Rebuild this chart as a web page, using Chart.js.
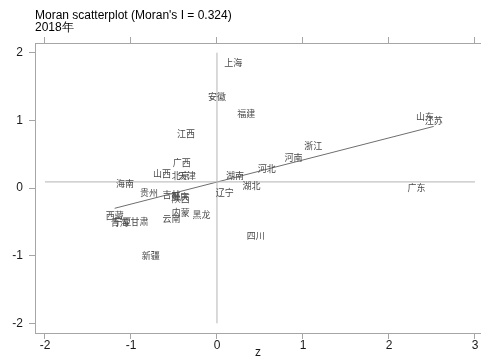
<!DOCTYPE html>
<html>
<head>
<meta charset="utf-8">
<script src="https://cdn.jsdelivr.net/npm/chart.js@4"></script>
<style>
html,body{margin:0;padding:0;background:#fff;}
canvas{display:block;}
</style>
</head>
<body>
<canvas id="c" width="481" height="361"></canvas>
<script>
// Province labels (as displayed) and Moran scatter values
const provinces = ['上海','安徽','福建','江西','山东','江苏','浙江','河南','河北','湖南','湖北','辽宁','广东','广西','山西','北京','天津','海南','贵州','吉林','陕西','重庆','内蒙','云南','黑龙','西藏','青海','宁夏','甘肃','新疆','四川'];
const zValues  = [0.19, 0.00, 0.34, -0.36, 2.42, 2.52, 1.12, 0.89, 0.58, 0.21, 0.40, 0.09, 2.32, -0.41, -0.64, -0.42, -0.35, -1.07, -0.79, -0.53, -0.42, -0.43, -0.42, -0.53, -0.18, -1.19, -1.13, -1.10, -0.90, -0.77, 0.45];
const wzValues = [1.86, 1.35, 1.10, 0.80, 1.06, 0.99, 0.62, 0.45, 0.29, 0.19, 0.04, -0.07, 0.01, 0.37, 0.21, 0.18, 0.18, 0.06, -0.07, -0.09, -0.15, -0.13, -0.37, -0.45, -0.40, -0.41, -0.51, -0.49, -0.50, -1.00, -0.71];

// Reference lines and fitted line
const meanWz = 0.09;
const hLineX = [-2, 3];
const vLineY = [-2, 2];
const fitX = [-1.19, 2.52];
const fitY = [-0.30, 0.91];

// Tick values
const xTicks = [-2, -1, 0, 1, 2, 3];
const yTicks = [-2, -1, 0, 1, 2];

const titleLines = ["Moran scatterplot (Moran's I = 0.324)", '2018年'];
const xTitle = 'z';

const FONT = 'Liberation Sans, Arial, sans-serif';
const AXIS_COLOR = '#a6a6a6';

const points = provinces.map((p, i) => ({x: zValues[i], y: wzValues[i]}));

const labelPlugin = {
  id: 'pointLabels',
  afterDatasetsDraw(chart) {
    const meta = chart.getDatasetMeta(3);
    const ctx = chart.ctx;
    ctx.save();
    ctx.font = '9px "Noto Sans CJK SC"';
    ctx.fillStyle = '#4a4a4a';
    ctx.textAlign = 'center';
    ctx.textBaseline = 'middle';
    meta.data.forEach((el, i) => {
      ctx.fillText(provinces[i], el.x, el.y);
    });
    ctx.restore();
  }
};

new Chart(document.getElementById('c'), {
  type: 'scatter',
  data: {
    datasets: [
      {
        type: 'line',
        data: hLineX.map(x => ({x: x, y: meanWz})),
        borderColor: '#b4b4b4', borderWidth: 1, pointRadius: 0, fill: false
      },
      {
        type: 'line',
        data: vLineY.map(y => ({x: 0, y: y})),
        borderColor: '#b4b4b4', borderWidth: 1, pointRadius: 0, fill: false
      },
      {
        type: 'line',
        data: fitX.map((x, i) => ({x: x, y: fitY[i]})),
        borderColor: '#6e6e6e', borderWidth: 1, pointRadius: 0, fill: false
      },
      {
        data: points,
        pointRadius: 0, pointHoverRadius: 0, showLine: false
      }
    ]
  },
  options: {
    responsive: false,
    animation: false,
    events: [],
    layout: {padding: 0},
    plugins: {
      legend: {display: false},
      tooltip: {enabled: false},
      title: {
        display: true,
        text: titleLines,
        align: 'start',
        fullSize: false,
        color: '#000',
        font: {family: FONT, size: 12, weight: 'normal', lineHeight: 1},
        padding: {top: 10, bottom: 0}
      }
    },
    scales: {
      x: {
        type: 'linear', position: 'bottom',
        min: -2.116, max: 3.07,
        afterBuildTicks: s => { s.ticks = xTicks.map(v => ({value: v})); },
        afterFit: s => { s.height = 28; s.paddingLeft = 0; s.paddingRight = 0; },
        border: {display: true, color: AXIS_COLOR, width: 1},
        grid: {drawOnChartArea: false, drawTicks: true, tickLength: 6, color: AXIS_COLOR},
        ticks: {color: '#1a1a1a', padding: 1, maxRotation: 0, font: {family: FONT, size: 12, lineHeight: 1}},
        title: {display: true, text: xTitle, color: '#1a1a1a', font: {family: FONT, size: 12, lineHeight: 1.2}, padding: {top: 0, bottom: 1}}
      },
      x2: {
        type: 'linear', position: 'top',
        min: -2.116, max: 3.07,
        afterBuildTicks: s => { s.ticks = xTicks.map(v => ({value: v})); },
        afterFit: s => { s.height = 9; s.paddingLeft = 0; s.paddingRight = 0; },
        border: {display: true, color: AXIS_COLOR, width: 1},
        grid: {drawOnChartArea: false, drawTicks: true, tickLength: 6, color: AXIS_COLOR},
        ticks: {display: false}
      },
      y: {
        type: 'linear', position: 'left',
        min: -2.143, max: 2.143,
        afterBuildTicks: s => { s.ticks = yTicks.map(v => ({value: v})); },
        afterFit: s => { s.width = 35; s.paddingTop = 0; s.paddingBottom = 0; },
        border: {display: true, color: AXIS_COLOR, width: 1},
        grid: {drawOnChartArea: false, drawTicks: true, tickLength: 6, color: AXIS_COLOR},
        ticks: {color: '#1a1a1a', padding: 6, font: {family: FONT, size: 12, lineHeight: 1}}
      }
    }
  },
  plugins: [labelPlugin]
});
</script>
</body>
</html>
